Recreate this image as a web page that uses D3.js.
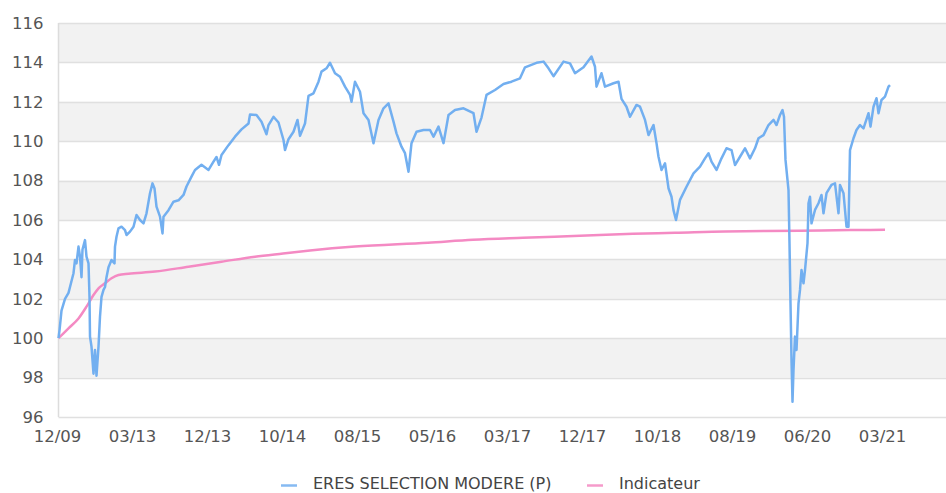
<!DOCTYPE html>
<html>
<head>
<meta charset="utf-8">
<script src="https://cdn.jsdelivr.net/npm/d3@7"></script>
<style>
  body { margin: 0; background: #fff; }
  text { font-family: "DejaVu Sans", sans-serif; }
</style>
</head>
<body>
<div id="chart"></div>
<script>
/*
*    fund vs indicator (base 100)
*/

// x axis = point number of the series
const tickIdx = [0, 150, 300, 450, 600, 750, 900, 1050, 1200, 1350, 1500, 1650];
const tickLabels = ["12/09", "03/13", "12/13", "10/14", "08/15", "05/16", "03/17", "12/17", "10/18", "08/19", "06/20", "03/21"];
const yTicks = [96, 98, 100, 102, 104, 106, 108, 110, 112, 114, 116];

const seriesNames = ["ERES SELECTION MODERE (P)", "Indicateur"];

const fundIdx = [0, 2, 6, 13, 20, 23, 30, 33, 36, 40, 43, 46, 48, 53, 56, 60, 62, 63, 66, 70, 73, 76, 80, 83, 86, 90, 93, 96, 100, 106, 112, 113, 116, 120, 126, 133, 136, 143, 150, 156, 163, 170, 176, 183, 188, 192, 196, 203, 208, 210, 220, 230, 240, 250, 256, 266, 273, 286, 300, 310, 316, 321, 326, 340, 353, 366, 380, 383, 396, 406, 416, 420, 430, 440, 450, 453, 460, 470, 478, 483, 493, 500, 510, 520, 526, 536, 543, 553, 563, 573, 583, 586, 593, 603, 610, 620, 630, 640, 650, 660, 670, 676, 686, 693, 700, 706, 716, 730, 743, 750, 760, 770, 780, 793, 810, 830, 836, 846, 856, 873, 890, 906, 923, 933, 956, 970, 980, 990, 1010, 1023, 1033, 1050, 1066, 1073, 1076, 1086, 1093, 1110, 1120, 1126, 1136, 1143, 1156, 1163, 1173, 1180, 1190, 1196, 1200, 1206, 1213, 1220, 1226, 1230, 1235, 1243, 1256, 1270, 1283, 1293, 1300, 1306, 1316, 1326, 1336, 1346, 1353, 1363, 1373, 1383, 1393, 1400, 1410, 1420, 1430, 1436, 1443, 1448, 1451, 1454, 1460, 1462, 1464, 1466, 1468, 1470, 1473, 1476, 1480, 1483, 1486, 1490, 1493, 1498, 1500, 1503, 1506, 1513, 1520, 1526, 1530, 1536, 1546, 1553, 1560, 1563, 1570, 1576, 1580, 1583, 1590, 1596, 1603, 1610, 1620, 1624, 1630, 1636, 1640, 1646, 1653, 1660, 1663];
const fundVal = [100.0, 100.4, 101.4, 102.0, 102.3, 102.6, 103.3, 103.97, 103.8, 104.65, 104.14, 103.1, 104.5, 104.98, 104.14, 103.8, 102.1, 100.08, 99.57, 98.2, 99.4, 98.1, 99.57, 101.1, 102.1, 102.45, 102.6, 103.1, 103.6, 103.97, 103.8, 104.65, 105.15, 105.58, 105.66, 105.49, 105.24, 105.41, 105.66, 106.25, 106.0, 105.83, 106.34, 107.36, 107.86, 107.6, 106.68, 106.17, 105.32, 106.17, 106.5, 106.93, 107.0, 107.27, 107.7, 108.2, 108.54, 108.8, 108.54, 108.96, 109.2, 108.8, 109.3, 109.8, 110.23, 110.6, 110.9, 111.35, 111.33, 110.99, 110.35, 110.82, 111.24, 110.95, 110.06, 109.55, 110.1, 110.48, 111.08, 110.27, 110.9, 112.3, 112.43, 113.02, 113.53, 113.7, 113.98, 113.45, 113.27, 112.77, 112.35, 112.0, 113.02, 112.51, 111.42, 111.08, 109.9, 111.08, 111.67, 111.92, 110.99, 110.4, 109.72, 109.39, 108.45, 109.9, 110.48, 110.57, 110.57, 110.23, 110.74, 109.9, 111.33, 111.58, 111.67, 111.42, 110.48, 111.2, 112.35, 112.6, 112.9, 113.02, 113.19, 113.75, 113.98, 114.04, 113.7, 113.3, 114.04, 113.95, 113.45, 113.75, 114.3, 113.78, 112.77, 113.45, 112.77, 112.94, 113.02, 112.15, 111.75, 111.24, 111.84, 111.75, 111.08, 110.31, 110.82, 109.9, 109.21, 108.54, 108.88, 107.61, 107.18, 106.5, 106.0, 107.02, 107.69, 108.37, 108.71, 109.13, 109.39, 108.96, 108.54, 109.13, 109.64, 109.55, 108.79, 109.21, 109.64, 109.13, 109.64, 110.15, 110.31, 110.82, 111.08, 110.82, 111.33, 111.58, 111.24, 109.05, 107.52, 104.82, 101.77, 98.89, 96.78, 98.39, 100.08, 99.4, 101.77, 102.45, 103.46, 102.79, 103.46, 104.82, 106.85, 107.18, 105.83, 106.51, 106.85, 107.27, 106.34, 107.36, 107.78, 107.86, 106.34, 107.78, 107.36, 105.66, 105.66, 109.55, 110.15, 110.57, 110.82, 110.65, 111.42, 110.74, 111.75, 112.18, 111.42, 112.09, 112.26, 112.77, 112.85];

const indicIdx = [0, 20, 40, 56, 70, 80, 93, 106, 120, 140, 193, 260, 326, 393, 449, 503, 593, 739, 829, 929, 1043, 1149, 1233, 1333, 1483, 1583, 1653];
const indicVal = [100.0, 100.5, 101.0, 101.6, 102.19, 102.53, 102.79, 103.04, 103.21, 103.27, 103.38, 103.63, 103.88, 104.14, 104.3, 104.45, 104.65, 104.85, 105.0, 105.1, 105.2, 105.3, 105.35, 105.42, 105.45, 105.49, 105.5];

const colors = ["#72aff0", "#f48ac3"];

drawChart("#chart");

function drawChart(container) {

    const width = 946;
    const height = 493;

    const margin = {
        left: 58.5,
        right: 0,
        top: 23,
        bottom: 76
    };

    const innerWidth = width - margin.left - margin.right;
    const innerHeight = height - margin.top - margin.bottom;

    const svg = d3.select(container)
        .append("svg")
        .attr("width", width)
        .attr("height", height);

    const g = svg.append("g")
        .attr("transform", `translate(${margin.left}, ${margin.top})`);

    const x = d3.scaleLinear()
        .domain([0, innerWidth * 2])
        .range([0, innerWidth]);

    const y = d3.scaleLinear()
        .domain([96, 116])
        .range([innerHeight, 0]);

    // bandes grises (98-100, 102-104, ... 114-116)
    const bands = yTicks.filter((d, i) => i % 2 === 1);
    g.append("g")
        .selectAll("rect")
        .data(bands)
        .enter()
        .append("rect")
        .attr("x", 0)
        .attr("y", d => y(d + 2))
        .attr("width", innerWidth)
        .attr("height", d => y(d) - y(d + 2))
        .attr("fill", "#f2f2f2");

    // grille
    g.append("g")
        .selectAll("line")
        .data(yTicks)
        .enter()
        .append("line")
        .attr("x1", 0)
        .attr("x2", innerWidth)
        .attr("y1", d => Math.round(y(d)) + 0.5)
        .attr("y2", d => Math.round(y(d)) + 0.5)
        .attr("stroke", "#e0e0e0")
        .attr("stroke-width", 1.5);

    g.append("line")
        .attr("x1", 0)
        .attr("x2", 0)
        .attr("y1", 0)
        .attr("y2", innerHeight)
        .attr("stroke", "#dcdcdc")
        .attr("stroke-width", 1.5);

    // axe Y
    const yAxis = g.append("g")
        .call(d3.axisLeft(y).tickValues(yTicks).tickSize(0).tickPadding(15));
    yAxis.select(".domain").remove();
    yAxis.selectAll("text")
        .style("font-size", "16.5px")
        .attr("fill", "#555");

    // axe X
    const xAxis = g.append("g")
        .attr("transform", `translate(-1.5, ${innerHeight})`)
        .call(d3.axisBottom(x)
            .tickValues(tickIdx)
            .tickFormat((d, i) => tickLabels[i])
            .tickSize(0)
            .tickPadding(13));
    xAxis.select(".domain").remove();
    xAxis.selectAll("text")
        .style("font-size", "16.5px")
        .attr("fill", "#555");

    // lignes
    const fundData = fundIdx.map((d, i) => ({ idx: d, value: fundVal[i] }));
    const indicData = indicIdx.map((d, i) => ({ idx: d, value: indicVal[i] }));

    const line = d3.line()
        .x(d => x(d.idx))
        .y(d => y(d.value));

    g.append("path")
        .datum(indicData)
        .attr("fill", "none")
        .attr("stroke", colors[1])
        .attr("stroke-width", 2.5)
        .attr("d", line.curve(d3.curveMonotoneX));

    g.append("path")
        .datum(fundData)
        .attr("fill", "none")
        .attr("stroke", colors[0])
        .attr("stroke-width", 2.5)
        .attr("stroke-linejoin", "round")
        .attr("d", line.curve(d3.curveLinear));

    // légende
    const legend = svg.append("g")
        .attr("transform", "translate(281, 484)");

    const legendX = [0, 306];

    const legendItem = legend.selectAll(".legend-item")
        .data(seriesNames)
        .enter()
        .append("g")
        .attr("class", "legend-item")
        .attr("transform", (d, i) => `translate(${legendX[i]}, 0)`);

    legendItem.append("line")
        .attr("x1", 0)
        .attr("x2", 16)
        .attr("y1", 1.5)
        .attr("y2", 1.5)
        .attr("stroke", (d, i) => colors[i])
        .attr("stroke-width", 2.5)
        .attr("opacity", 0.85);

    legendItem.append("text")
        .attr("x", 32)
        .attr("y", 5)
        .style("font-size", "16px")
        .style("fill", "#444")
        .text(d => d);
}
</script>
</body>
</html>
